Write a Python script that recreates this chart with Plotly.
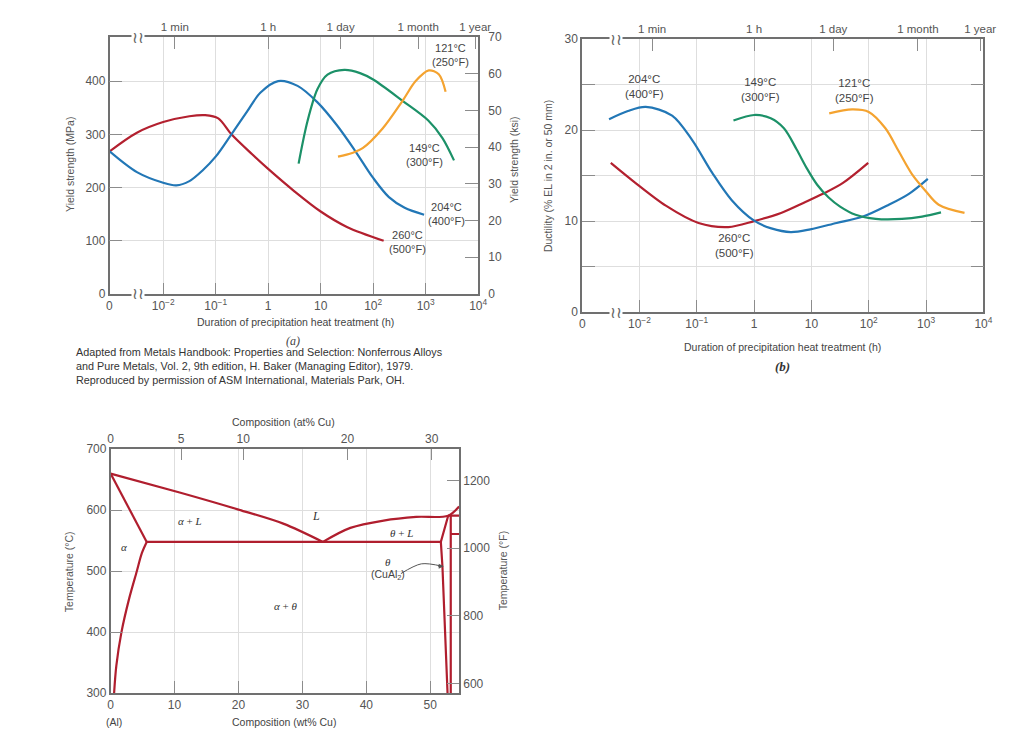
import plotly.graph_objects as go

W, H = 1024, 744

# ---------------- (a) Yield strength vs log10(time, h) ----------------
a_260_logt = [-3.02, -2.5, -2.0, -1.5, -1.2, -0.95, -0.7, -0.3, 0.0, 0.5, 1.0, 1.5, 2.2]
a_260_mpa = [268, 303, 323, 334, 336, 330, 300, 262, 235, 193, 155, 126, 100]
a_204_logt = [-3.02, -2.5, -2.0, -1.75, -1.5, -1.25, -1.0, -0.7, -0.4, -0.15, 0.19, 0.56, 0.94, 1.31, 1.65, 2.0, 2.3, 2.6, 2.97]
a_204_mpa = [268, 229, 209, 204, 212, 232, 258, 300, 343, 378, 400, 391, 360, 317, 270, 218, 182, 162, 149]
a_149_logt = [0.58, 0.75, 0.94, 1.13, 1.45, 1.75, 2.0, 2.56, 3.05, 3.32, 3.54]
a_149_mpa = [245, 325, 385, 412, 421, 415, 403, 363, 326, 293, 251]
a_121_logt = [1.33, 1.6, 1.8, 2.18, 2.56, 2.81, 3.06, 3.25, 3.38]
a_121_mpa = [258, 265, 274, 311, 363, 400, 420, 413, 380]

# ---------------- (b) Ductility vs log10(time, h) ----------------
b_204_logt = [-2.53, -2.2, -1.89, -1.43, -1.08, -0.73, -0.39, 0.0, 0.3, 0.64, 0.98, 1.44, 1.9, 2.35, 2.7, 3.03]
b_204_el = [21.2, 22.1, 22.55, 21.6, 18.9, 15.3, 12.3, 10.05, 9.2, 8.8, 9.1, 9.8, 10.5, 11.8, 13.0, 14.65]
b_260_logt = [-2.5, -2.11, -1.54, -0.97, -0.45, 0.0, 0.47, 0.86, 1.2, 1.55, 1.99]
b_260_el = [16.4, 14.4, 11.7, 9.8, 9.35, 10.0, 10.9, 12.0, 13.0, 14.2, 16.4]
b_149_logt = [-0.36, 0.0, 0.29, 0.52, 0.74, 0.92, 1.1, 1.3, 1.5, 1.77, 2.12, 2.58, 2.93, 3.26]
b_149_el = [21.05, 21.66, 21.3, 20.2, 17.9, 15.8, 14.0, 12.6, 11.6, 10.7, 10.25, 10.24, 10.5, 10.96]
b_121_logt = [1.31, 1.71, 2.0, 2.29, 2.52, 2.75, 2.98, 3.22, 3.67]
b_121_el = [21.84, 22.27, 22.0, 20.2, 17.7, 15.2, 13.4, 11.8, 10.9]

# ---------------- (c) Al-Cu phase diagram (wt% Cu, deg C) ----------------
liq_al_wt = [0, 10.8, 20, 27, 33.2]
liq_al_t = [660, 629, 601, 578, 548]
sol_al_wt = [0, 5.65]
sol_al_t = [660, 548]
solvus_wt = [5.65, 4.9, 4.1, 2.9, 1.7, 0.9, 0.55]
solvus_t = [548, 530, 500, 455, 400, 345, 300]
eut_wt = [5.65, 51.65]
eut_t = [548, 548]
liq_th_wt = [33.2, 37.5, 42.7, 47.8, 52.8, 54.5]
liq_th_t = [548, 571, 583, 589, 591, 606]
perit_wt = [52.8, 54.5]
perit_t = [591, 591]
th_left_wt = [52.8, 51.65, 51.9, 52.7]
th_left_t = [591, 548, 508, 300]
th_right_wt = [53.2, 53.2]
th_right_t = [591, 300]
eutd_wt = [53.2, 54.5]
eutd_t = [561, 561]
arrow_wt = [45.4, 48.6, 51.9]
arrow_t = [496, 512, 508]

# tick labels
dec_vals = [1e-2, 1e-1, 1, 10, 100, 1000, 10000]
dec_text = ["10<sup>−2</sup>", "10<sup>−1</sup>", "1", "10", "10<sup>2</sup>", "10<sup>3</sup>", "10<sup>4</sup>"]
time_hours = [1 / 60, 1, 24, 720, 8760]
time_text = ["1 min", "1 h", "1 day", "1 month", "1 year"]
mpa_ticks = [0, 100, 200, 300, 400]
ksi_ticks = [0, 10, 20, 30, 40, 50, 60, 70]
el_ticks = [0, 5, 10, 15, 20, 25, 30]
el_text = ["0", "", "10", "", "20", "", "30"]
wt_ticks = [0, 10, 20, 30, 40, 50]
at_ticks = [0, 5, 10, 20, 30]
tc_ticks = [300, 400, 500, 600, 700]
tf_ticks = [600, 800, 1000, 1200]

RED = "#b3202f"
BLUE = "#2277b6"
GREEN = "#1c9168"
ORANGE = "#f4a330"
PRED = "#b01e2e"
AX = "#707070"
GRID = "#dedede"
TICKC = "#8c8c8c"
SANS = "Liberation Sans, Arial, sans-serif"
SERIF = "Liberation Serif, Times New Roman, serif"
TF = dict(family=SANS, size=12, color="#555")
TFT = dict(family=SANS, size=11.5, color="#555")


def pxx(x):
    return x / W


def pyy(y):
    return 1 - y / H


def pw(vals):
    return [10 ** v for v in vals]


def at_to_wt(a):
    return 100 * a * 63.546 / (a * 63.546 + (100 - a) * 26.982)


fig = go.Figure()


def line(x, y, color, xa, ya, width=2.2, smooth=True):
    fig.add_trace(go.Scatter(x=x, y=y, mode="lines", xaxis=xa, yaxis=ya,
                             line=dict(color=color, width=width,
                                       shape="spline" if smooth else "linear", smoothing=0.9),
                             showlegend=False, hoverinfo="skip"))


def dummy(xa, ya):
    fig.add_trace(go.Scatter(x=[None], y=[None], mode="markers", xaxis=xa, yaxis=ya,
                             showlegend=False, hoverinfo="skip"))


# (a)
line(pw(a_260_logt), a_260_mpa, RED, "x", "y")
line(pw(a_204_logt), a_204_mpa, BLUE, "x", "y")
line(pw(a_149_logt), a_149_mpa, GREEN, "x", "y")
line(pw(a_121_logt), a_121_mpa, ORANGE, "x", "y")
dummy("x2", "y")
dummy("x", "y2")
# (b)
line(pw(b_260_logt), b_260_el, RED, "x3", "y3")
line(pw(b_204_logt), b_204_el, BLUE, "x3", "y3")
line(pw(b_149_logt), b_149_el, GREEN, "x3", "y3")
line(pw(b_121_logt), b_121_el, ORANGE, "x3", "y3")
dummy("x4", "y3")
# (c)
line(liq_al_wt, liq_al_t, PRED, "x5", "y5", 2.2)
line(sol_al_wt, sol_al_t, PRED, "x5", "y5", 2.2, False)
line(solvus_wt, solvus_t, PRED, "x5", "y5", 2.2)
line(eut_wt, eut_t, PRED, "x5", "y5", 2.2, False)
line(liq_th_wt, liq_th_t, PRED, "x5", "y5", 2.2)
line(perit_wt, perit_t, PRED, "x5", "y5", 2.2, False)
line(th_left_wt, th_left_t, PRED, "x5", "y5", 2.2, False)
line(th_right_wt, th_right_t, PRED, "x5", "y5", 2.2, False)
line(eutd_wt, eutd_t, PRED, "x5", "y5", 2.2, False)
line(arrow_wt, arrow_t, "#555", "x5", "y5", 1.0)
dummy("x6", "y5")
dummy("x5", "y6")


def axis(**kw):
    d = dict(showline=True, linecolor=AX, linewidth=1.5, ticks="inside", tickcolor=TICKC,
             tickwidth=1.3, tickfont=TF, zeroline=False, showgrid=False, fixedrange=True)
    d.update(kw)
    return d


dom_a_x = [pxx(108.3), pxx(482.7)]
dom_a_y = [pyy(292.5), pyy(30.7)]
dom_b_x = [pxx(588.3), pxx(996)]
dom_b_y = [pyy(311), pyy(32.7)]
dom_c_x = [pxx(109.3), pxx(463.3)]
dom_c_y = [pyy(699.3), pyy(450.7)]

ksi_max = 482.6 / 6.894757

layout = dict(
    width=W, height=H, margin=dict(l=0, r=0, t=0, b=0), autosize=False,
    paper_bgcolor="white", plot_bgcolor="rgba(0,0,0,0)",
    font=dict(family=SANS, color="#555"),
    showlegend=False,
    xaxis=axis(type="log", range=[-3.02, 4], domain=dom_a_x, anchor="y", tickvals=dec_vals,
               ticktext=dec_text, showgrid=True, gridcolor=GRID, ticklen=11),
    xaxis2=axis(type="log", range=[-3.02, 4], overlaying="x", side="top", anchor="y",
                tickvals=time_hours, ticktext=time_text, ticklen=12, tickfont=TFT),
    yaxis=axis(range=[0, 482.6], domain=dom_a_y, anchor="x", tickvals=mpa_ticks,
               showgrid=True, gridcolor=GRID, ticklen=13),
    yaxis2=axis(range=[0, ksi_max], overlaying="y", side="right", anchor="x",
                tickvals=ksi_ticks, ticklen=13, ticklabelstandoff=6),
    xaxis3=axis(type="log", range=[-3.0, 4], domain=dom_b_x, anchor="y3", tickvals=dec_vals,
                ticktext=dec_text, showgrid=True, gridcolor=GRID, ticklen=12),
    xaxis4=axis(type="log", range=[-3.0, 4], overlaying="x3", side="top", anchor="y3",
                tickvals=time_hours, ticktext=time_text, ticklen=12, tickfont=TFT),
    yaxis3=axis(range=[0, 30], domain=dom_b_y, anchor="x3", tickvals=el_ticks, ticktext=el_text,
                showgrid=True, gridcolor=GRID, ticklen=13, mirror="ticks"),
    xaxis5=axis(range=[0, 54.5], domain=dom_c_x, anchor="y5", tickvals=wt_ticks,
                showgrid=True, gridcolor=GRID, ticklen=12),
    xaxis6=axis(range=[0, 54.5], overlaying="x5", side="top", anchor="y5",
                tickvals=[at_to_wt(a) for a in at_ticks], ticktext=[str(a) for a in at_ticks], ticklen=11),
    yaxis5=axis(range=[300, 700], domain=dom_c_y, anchor="x5", tickvals=tc_ticks,
                showgrid=True, gridcolor=GRID, ticklen=12),
    yaxis6=axis(range=[300 * 9 / 5 + 32, 700 * 9 / 5 + 32], overlaying="y5", side="right",
                anchor="x5", tickvals=tf_ticks, ticklen=12),
)
fig.update_layout(**layout)

ann = []


def txt(x, y, s, size=11.5, color="#444", angle=0, xanchor="center", family=SANS, bg=None):
    d = dict(x=pxx(x), y=pyy(y), xref="paper", yref="paper", text=s, showarrow=False,
             xanchor=xanchor, yanchor="middle", textangle=angle,
             font=dict(family=family, size=size, color=color))
    if bg:
        d.update(bgcolor=bg, borderpad=0)
    ann.append(d)


# (a) texts
txt(68, 160, "Yield strength (MPa)", 10.5, "#555", -90)
txt(519, 155, "Yield strength (ksi)", 10.5, "#555", -90)
txt(297, 321, "Duration of precipitation heat treatment (h)", 10.5, "#444")
txt(295, 340, "<i>(a)</i>", 12, "#444", family=SERIF)
txt(72, 352, "Adapted from Metals Handbook: Properties and Selection: Nonferrous Alloys", 10.8, "#333", xanchor="left")
txt(72, 366, "and Pure Metals, Vol. 2, 9th edition, H. Baker (Managing Editor), 1979.", 10.8, "#333", xanchor="left")
txt(72, 380, "Reproduced by permission of ASM International, Materials Park, OH.", 10.8, "#333", xanchor="left")
txt(108, 305, "0", 12, "#555")
txt(455, 49, "121°C<br>(250°F)", 11)
txt(428, 151, "149°C<br>(300°F)", 11)
txt(451, 211, "204°C<br>(400°F)", 11)
txt(411, 240, "260°C<br>(500°F)", 11)
txt(137, 31, "≀≀", 16, "#666", bg="white")
txt(137, 292.5, "≀≀", 16, "#666", bg="white")

# (b) texts
txt(553, 172, "Ductility (% EL in 2 in. or 50 mm)", 10.5, "#555", -90)
txt(792, 347, "Duration of precipitation heat treatment (h)", 10.5, "#444")
txt(792, 366, "<b><i>(b)</i></b>", 13, "#333", family=SERIF)
txt(589, 323, "0", 12, "#555")
txt(652, 81, "204°C<br>(400°F)", 11.5)
txt(770, 84, "149°C<br>(300°F)", 11.5)
txt(865, 85.5, "121°C<br>(250°F)", 11.5)
txt(743, 243.5, "260°C<br>(500°F)", 11.5)
txt(623, 33, "≀≀", 16, "#666", bg="white")
txt(623, 311, "≀≀", 16, "#666", bg="white")

# (c) texts
txt(285, 423, "Composition (at% Cu)", 10.5, "#444")
txt(285, 729, "Composition (wt% Cu)", 10.5, "#444")
txt(113, 729, "(Al)", 10.5, "#444")
txt(67, 575, "Temperature (°C)", 10.5, "#555", -90)
txt(508, 575, "Temperature (°F)", 10.5, "#555", -90)
txt(190, 524, "<i>α</i> + <i>L</i>", 11, "#333", family=SERIF)
txt(318, 519, "<i>L</i>", 12, "#333", family=SERIF)
txt(405, 536, "<i>θ</i> + <i>L</i>", 11, "#333", family=SERIF)
txt(123, 550, "<i>α</i>", 11, "#333", family=SERIF)
txt(391, 566, "<i>θ</i>", 11, "#333", family=SERIF)
txt(391, 579, "(CuAl<sub>2</sub>)", 10.5, "#444")
txt(287, 610, "<i>α</i> + <i>θ</i>", 11, "#333", family=SERIF)

# arrowhead for the theta label pointer
ann.append(dict(x=52.1, y=508, xref="x5", yref="y5", ax=-7, ay=0, text="", showarrow=True,
                arrowhead=2, arrowsize=1, arrowwidth=1, arrowcolor="#555"))

fig.update_layout(annotations=ann)
fig.write_html("out.html")
